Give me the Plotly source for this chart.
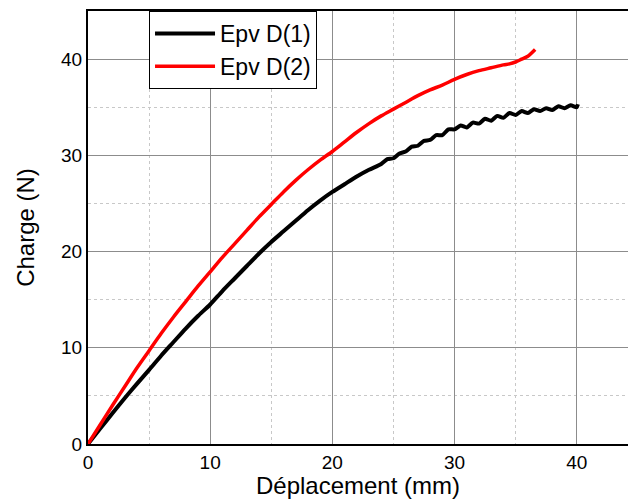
import plotly.graph_objects as go

x1 = [0, 1, 2, 3, 4, 5, 6, 7, 8, 9, 10, 11, 12, 13, 14, 15, 16, 17, 18, 19, 20, 21, 22, 23,
      24.0, 24.5, 25.0, 25.5, 26.0, 26.5, 27.0, 27.5, 28.0, 28.5, 29.0, 29.5, 30.0, 30.5,
      31.0, 31.5, 32.0, 32.5, 33.0, 33.5, 34.0, 34.5, 35.0, 35.5, 36.0, 36.5, 37.0, 37.5,
      38.0, 38.5, 39.0, 39.5, 40.0, 40.1]
y1 = [0, 1.6, 3.2, 4.75, 6.25, 7.7, 9.2, 10.6, 12.0, 13.3, 14.5, 15.9, 17.2, 18.5, 19.8, 21.0,
      22.1, 23.2, 24.3, 25.3, 26.2, 27.0, 27.8, 28.5,
      29.1, 29.6, 29.7, 30.2, 30.4, 30.9, 31.0, 31.5, 31.6, 32.1, 32.1, 32.7, 32.7, 33.1,
      32.9, 33.4, 33.3, 33.8, 33.6, 34.1, 33.9, 34.4, 34.2, 34.6, 34.4, 34.8, 34.6, 34.9,
      34.7, 35.1, 34.9, 35.2, 35.0, 35.3]

x2 = [0, 1, 2, 3, 4, 5, 6, 7, 8, 9, 10, 11, 12, 13, 14, 15, 16, 17, 18, 19, 20, 21, 22, 23,
      24, 25, 26, 27, 28, 29, 30, 31, 32, 33, 34, 34.5, 35, 35.5, 36, 36.6]
y2 = [0, 2.0, 4.0, 5.95, 7.9, 9.7, 11.5, 13.2, 14.8, 16.4, 17.9, 19.4, 20.8, 22.2, 23.6, 24.9,
      26.2, 27.4, 28.5, 29.5, 30.4, 31.4, 32.4, 33.3,
      34.1, 34.8, 35.5, 36.2, 36.8, 37.3, 37.9, 38.4, 38.8, 39.1, 39.4, 39.5, 39.7, 40.0, 40.3, 41.0]

fig = go.Figure()
fig.add_trace(go.Scatter(x=x1, y=y1, mode="lines", name="Epv D(1)",
                         line=dict(color="black", width=4, shape="spline", smoothing=0.6)))
fig.add_trace(go.Scatter(x=x2, y=y2, mode="lines", name="Epv D(2)",
                         line=dict(color="#ff0000", width=3.5, shape="spline", smoothing=0.8)))

font = "Liberation Sans, Arial, sans-serif"
fig.update_layout(
    width=628, height=499,
    margin=dict(l=88, r=0, t=11, b=55),
    paper_bgcolor="white", plot_bgcolor="white",
    font=dict(family=font, color="black", size=19),
    showlegend=True,
    legend=dict(x=0.113, y=1, xanchor="left", yanchor="top",
                bordercolor="black", borderwidth=1, bgcolor="white",
                font=dict(size=23), tracegroupgap=0, itemwidth=60),
    xaxis=dict(range=[0, 44.2], tickvals=[0, 10, 20, 30, 40],
               showline=True, linecolor="black", linewidth=2, mirror=True,
               showgrid=True, gridcolor="#8c8c8c", gridwidth=1,
               minor=dict(dtick=5, tick0=0, showgrid=True, gridcolor="#c8c8c8",
                          griddash="dot", gridwidth=1),
               zeroline=False, ticks="", ticklabelstandoff=0, automargin=False,
               title=dict(text="Déplacement (mm)", font=dict(size=24), standoff=6)),
    yaxis=dict(range=[0, 45], tickvals=[0, 10, 20, 30, 40],
               showline=True, linecolor="black", linewidth=2,
               showgrid=True, gridcolor="#8c8c8c", gridwidth=1,
               minor=dict(dtick=5, tick0=0, showgrid=True, gridcolor="#c8c8c8",
                          griddash="dot", gridwidth=1),
               zeroline=False, ticks="", ticklabelstandoff=0, automargin=False,
               title=dict(text="Charge (N)", font=dict(size=24), standoff=20)),
)

fig.write_html("out.html")
